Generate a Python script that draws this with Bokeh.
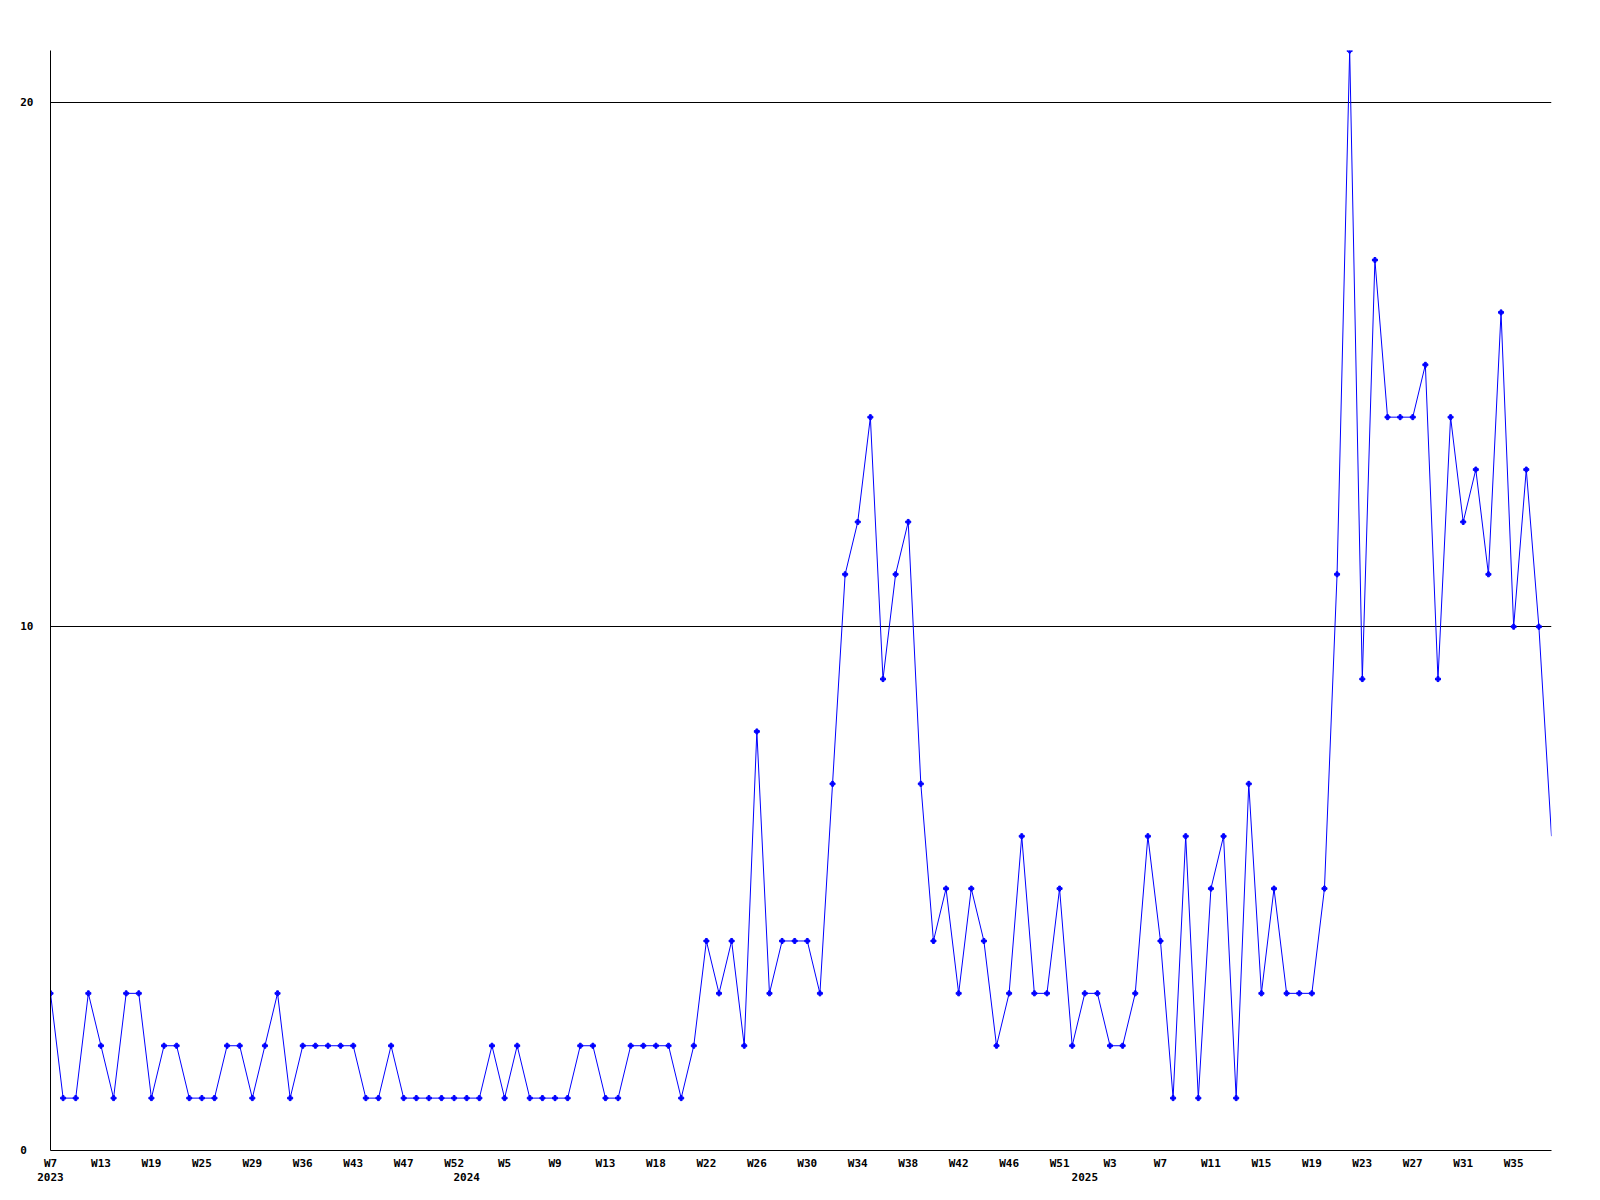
from bokeh.plotting import figure
from bokeh.models import FixedTicker, LinearAxis, Range1d
from bokeh.embed import file_html
from bokeh.resources import INLINE

# weekly counts, one per plotted week (2023 W7 ... 2025 W37)
values = [3, 1, 1, 3, 2, 1, 3, 3, 1, 2, 2, 1, 1, 1, 2, 2, 1, 2, 3, 1, 2, 2, 2, 2, 2, 1, 1, 2,
          1, 1, 1, 1, 1, 1, 1, 2, 1, 2, 1, 1, 1, 1, 2, 2, 1, 1, 2, 2, 2, 2, 1, 2,
          4, 3, 4, 2, 8, 3,
          4, 4, 4, 3, 7, 11, 12, 14, 9, 11, 12, 7, 4, 5, 3, 5, 4, 2, 3, 6, 3, 3, 5, 2,
          3, 3, 2, 2, 3, 6, 4, 1, 6, 1, 5, 6, 1, 7, 3, 5, 3, 3, 3, 5, 11, 21, 9, 17,
          14, 14, 14, 15, 9, 14, 12, 13, 11, 16, 10, 13, 10, 6]

# labels shown every 4th week
week_labels = ["W7", "W13", "W19", "W25", "W29", "W36", "W43", "W47", "W52", "W5",
               "W9", "W13", "W18", "W22", "W26", "W30", "W34", "W38", "W42", "W46",
               "W51", "W3", "W7", "W11", "W15", "W19", "W23", "W27", "W31", "W35"]
label_step = 4

years = ["2023", "2024", "2025"]
year_start_index = [0, 33, 82]

y_ticks = [0, 10, 20]
y_max = 21

FONT = "DejaVu Sans Mono"
BLUE = "#0000ff"

xs = list(range(len(values)))

p = figure(frame_width=1501, frame_height=1100,
           x_range=Range1d(0, len(values) - 1), y_range=Range1d(0, y_max),
           output_backend="svg", toolbar_location=None,
           min_border_left=50, min_border_top=50, min_border_right=30, min_border_bottom=10,
           background_fill_color="white", border_fill_color="white",
           outline_line_color=None, x_axis_type=None, y_axis_location="left")

# grid
p.xgrid.visible = False
p.ygrid.ticker = FixedTicker(ticks=y_ticks)
p.ygrid.grid_line_color = "black"
p.ygrid.grid_line_width = 1

# y axis
ya = p.yaxis[0]
ya.ticker = FixedTicker(ticks=y_ticks)
ya.major_label_overrides = {0: "0\u00a0", 10: "10", 20: "20"}
ya.major_tick_out = 0
ya.major_tick_in = 0
ya.minor_tick_out = 0
ya.minor_tick_in = 0
ya.axis_line_color = "black"
ya.major_label_standoff = 17
ya.major_label_text_font = FONT
ya.major_label_text_font_style = "bold"
ya.major_label_text_font_size = "11px"
ya.major_label_text_color = "black"

# week axis
tick_pos = [i * label_step for i in range(len(week_labels))]
xa = LinearAxis(ticker=FixedTicker(ticks=tick_pos),
                major_label_overrides={t: l for t, l in zip(tick_pos, week_labels)},
                major_tick_out=0, major_tick_in=0, minor_tick_out=0, minor_tick_in=0,
                axis_line_color="black", major_label_standoff=6,
                major_label_text_font=FONT, major_label_text_font_style="bold",
                major_label_text_font_size="11px", major_label_text_color="black")
p.add_layout(xa, "below")

# year axis
ya2 = LinearAxis(ticker=FixedTicker(ticks=year_start_index),
                 major_label_overrides={t: l for t, l in zip(year_start_index, years)},
                 major_tick_out=0, major_tick_in=0, minor_tick_out=0, minor_tick_in=0,
                 axis_line_color=None, major_label_standoff=0,
                 major_label_text_font=FONT, major_label_text_font_style="bold",
                 major_label_text_font_size="11px", major_label_text_color="black")
p.add_layout(ya2, "below")

p.line(xs, values, line_color=BLUE, line_width=1)
p.scatter(xs[:-1], values[:-1], marker="plus", size=5, color=BLUE)

open("out.html", "w").write(file_html(p, INLINE))
